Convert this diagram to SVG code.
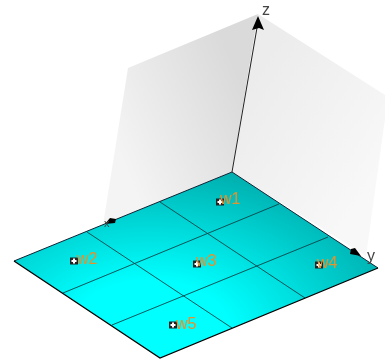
<svg xmlns="http://www.w3.org/2000/svg" width="385" height="362" viewBox="0 0 385 362">
<style>
.grid{stroke:#0a4448;stroke-width:.9;fill:none}
.edge{stroke:#000;stroke-width:1.3;fill:none}
.back{stroke:#123;stroke-width:1;fill:none}
.axis{stroke:#222;stroke-width:1;fill:none}
.lbl{font-family:"Liberation Sans",Arial,sans-serif;font-size:16px;fill:#e8902a;filter:url(#soft)}
.ax{font-family:"Liberation Sans",Arial,sans-serif;font-size:16px;fill:#444;filter:url(#soft)}
.pt{fill:#222}
.pl{fill:#fff}
</style>
<defs>
<filter id="soft" x="-10%" y="-10%" width="120%" height="120%"><feGaussianBlur stdDeviation="0.2"/></filter>
<linearGradient id="lw" gradientUnits="userSpaceOnUse" x1="245" y1="90" x2="115" y2="145">
<stop offset="0" stop-color="#dadada"/><stop offset="1" stop-color="#f4f4f4"/>
</linearGradient>
<linearGradient id="rw" gradientUnits="userSpaceOnUse" x1="245" y1="90" x2="378" y2="175">
<stop offset="0" stop-color="#ececec"/><stop offset="1" stop-color="#f8f8f8"/>
</linearGradient>
<radialGradient id="fl" gradientUnits="userSpaceOnUse" cx="0" cy="0" r="165" gradientTransform="translate(150 330) scale(1.6 1)">
<stop offset="0.3" stop-color="#00ffff"/><stop offset="1" stop-color="#00aeae"/>
</radialGradient>
<g id="m"><rect class="pt" x="-4" y="-3.5" width="8" height="7"/><path class="pl" d="M-1-2.5h2v1.500h1.500v2h-1.500v1.500h-2v-1.500h-1.500v-2h1.500z"/></g>
</defs>
<g id="walls">
<polygon points="128,68 258,14 232,172 103,225" fill="url(#lw)"/>
<polygon points="258,14 388,97 366,256 232,172" fill="url(#rw)"/>
</g>
<g id="floor">
<polygon points="232,172 378,268 160,358 14,261" fill="url(#fl)"/>
</g>
<g id="connectors">
<path class="grid" d="M160,202 305,298M87,232 232,328M279,204 63,293M328,237 112,325"/>
<path class="back" d="M14,261 232,172 378,268"/>
<path class="edge" d="M378,268 160,358 14,261"/>
<path class="axis" d="M232,172 258,22"/>
<polygon points="258,16 264,30 259,28 252,30" fill="#000"/>
<polygon points="105,224 110,218 116,219 115,223" fill="#000"/>
<polygon points="361,256 350,254 351,249 355,248" fill="#000"/>
</g>
<g id="axis-x"><text class="ax" x="104" y="227" style="font-size:11px">x</text></g>
<g id="axis-y"><text class="ax" x="367" y="261">y</text></g>
<g id="axis-z"><text class="ax" x="262" y="15">z</text></g>
<g id="w1"><use href="#m" x="220" y="202"/><text class="lbl" x="220" y="204">w1</text></g>
<g id="w2"><use href="#m" x="74" y="261"/><text class="lbl" x="77" y="264">w2</text></g>
<g id="w3"><use href="#m" x="197" y="264"/><text class="lbl" x="196" y="266">w3</text></g>
<g id="w4"><use href="#m" x="319" y="265"/><text class="lbl" x="317" y="268">w4</text></g>
<g id="w5"><use href="#m" x="173" y="325"/><text class="lbl" x="176" y="329">w5</text></g>
</svg>
